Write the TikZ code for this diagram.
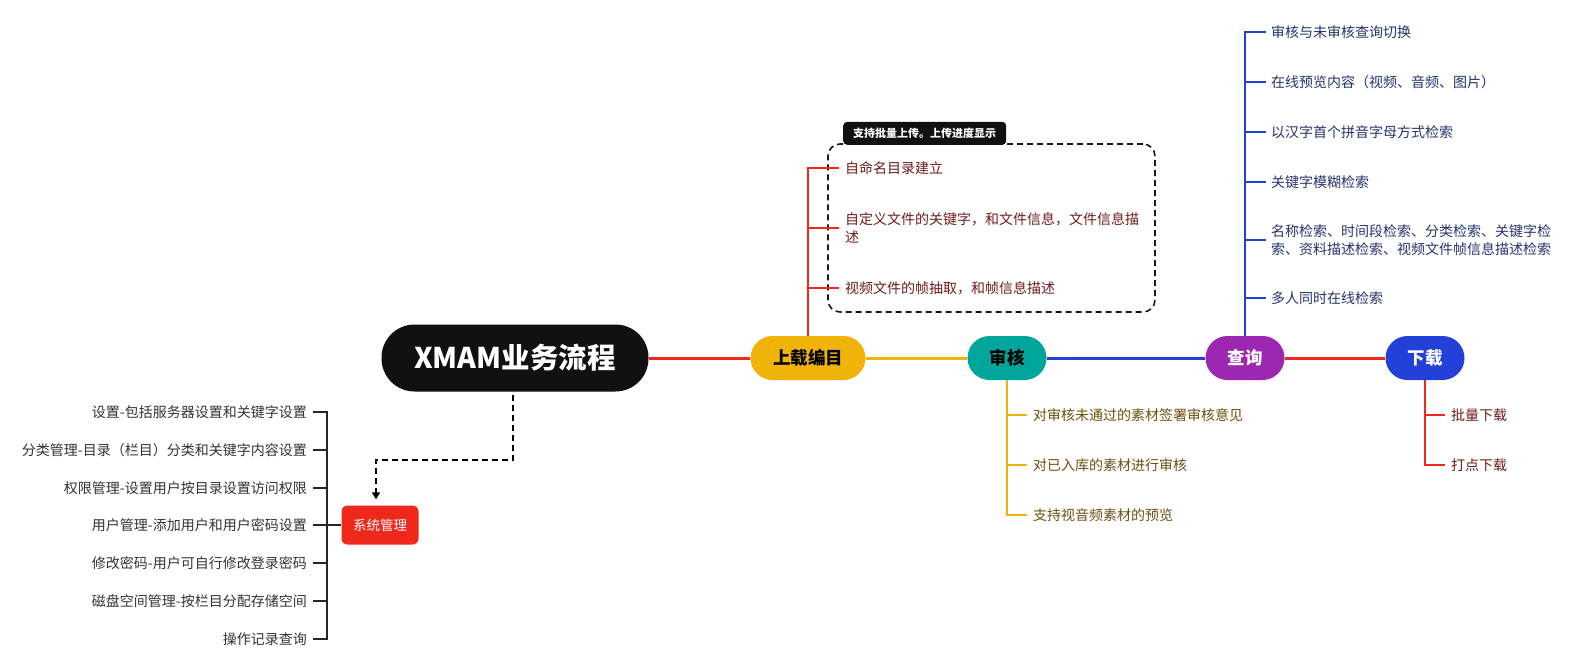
\documentclass[tikz,border=0pt]{standalone}
\usepackage{fontspec}
\setmainfont{Noto Sans CJK SC}
\usetikzlibrary{arrows.meta}
\definecolor{cred}{HTML}{F0281C}
\definecolor{cgold}{HTML}{F0B30A}
\definecolor{cteal}{HTML}{00A59B}
\definecolor{cpurple}{HTML}{9C27B0}
\definecolor{cblue}{HTML}{2340D8}
\definecolor{croot}{HTML}{111111}
\definecolor{tred}{HTML}{6E1C1C}
\definecolor{tgold}{HTML}{6E5010}
\definecolor{tblue}{HTML}{26336E}
\definecolor{tgray}{HTML}{333333}
\tikzset{
  rootbox/.style={fill=croot, rounded corners=33pt, minimum width=267pt, minimum height=67pt, text=white, inner sep=0pt, font=\fontsize{28.5}{32}\selectfont\bfseries},
  topic/.style={rounded corners=22pt, minimum height=44pt, inner sep=0pt, font=\fontsize{17.5}{20}\selectfont\bfseries},
  leaf/.style={anchor=west, inner sep=0pt, align=left, font=\fontsize{14}{18}\selectfont},
  leafr/.style={anchor=east, inner sep=0pt, align=right, font=\fontsize{14}{18}\selectfont, text=tgray},
  mainline/.style={line width=3pt},
  branch/.style={line width=2pt},
  groupbox/.style={draw=black!90, line width=1.6pt, dash pattern=on 6pt off 4pt, rounded corners=12pt},
  tabbox/.style={fill=croot, text=white, rounded corners=4pt, inner xsep=10pt, minimum height=23pt, font=\fontsize{11}{13}\selectfont\bfseries},
  sysbox/.style={fill=cred, text=white, rounded corners=6pt, minimum width=77pt, minimum height=39pt, inner sep=0pt, font=\fontsize{13.5}{16}\selectfont},
  dasharrow/.style={line width=1.6pt, dash pattern=on 6pt off 4pt, -{Triangle[length=7pt,width=8pt]}}
}
\begin{document}
\begin{tikzpicture}[x=1pt,y=-1pt]
\useasboundingbox[fill=white] (0,0) rectangle (1583,656);

% main nodes
\node[rootbox] (root) at (515,358) {XMAM业务流程};
\node[topic, fill=cgold, minimum width=115pt, text=black] (up) at (808,358) {上载编目};
\node[topic, fill=cteal, minimum width=79pt, text=black] (au) at (1007,358) {审核};
\node[topic, fill=cpurple, minimum width=79pt, text=white] (qu) at (1245,358) {查询};
\node[topic, fill=cblue, minimum width=79pt, text=white] (dl) at (1425,358) {下载};

\draw[mainline, cred] (root.east) -- (up.west);
\draw[mainline, cgold] (up.east) -- (au.west);
\draw[mainline, cblue] (au.east) -- (qu.west);
\draw[mainline, cred] (qu.east) -- (dl.west);

% upload group
\node[groupbox, minimum width=327pt, minimum height=168pt] (grp) at (991.5,228) {};
\node[tabbox, anchor=south west] (tab) at (843,145) {支持批量上传。上传进度显示};
\node[leaf, text=tred] (uc1) at (845,168) {自命名目录建立};
\node[leaf, text=tred] (uc2) at (845,228) {自定义文件的关键字，和文件信息，文件信息描\\述};
\node[leaf, text=tred] (uc3) at (845,288) {视频文件的帧抽取，和帧信息描述};
\foreach \n in {uc1,uc2,uc3}
  \draw[branch, cred] (up.north) |- ([xshift=-6pt]\n.west);

% audit
\node[leaf, text=tgold] (ac1) at (1033,415) {对审核未通过的素材签署审核意见};
\node[leaf, text=tgold] (ac2) at (1033,465) {对已入库的素材进行审核};
\node[leaf, text=tgold] (ac3) at (1033,515) {支持视音频素材的预览};
\foreach \n in {ac1,ac2,ac3}
  \draw[branch, cgold] (au.south) |- ([xshift=-6pt]\n.west);

% query
\node[leaf, text=tblue] (qc1) at (1271,32) {审核与未审核查询切换};
\node[leaf, text=tblue] (qc2) at (1271,82) {在线预览内容（视频、音频、图片）};
\node[leaf, text=tblue] (qc3) at (1271,132) {以汉字首个拼音字母方式检索};
\node[leaf, text=tblue] (qc4) at (1271,182) {关键字模糊检索};
\node[leaf, text=tblue] (qc5) at (1271,240) {名称检索、时间段检索、分类检索、关键字检\\索、资料描述检索、视频文件帧信息描述检索};
\node[leaf, text=tblue] (qc6) at (1271,298) {多人同时在线检索};
\foreach \n in {qc1,qc2,qc3,qc4,qc5,qc6}
  \draw[branch, cblue] (qu.north) |- ([xshift=-5pt]\n.west);

% download
\node[leaf, text=tred] (dc1) at (1451,415) {批量下载};
\node[leaf, text=tred] (dc2) at (1451,465) {打点下载};
\foreach \n in {dc1,dc2}
  \draw[branch, cred] (dl.south) |- ([xshift=-6pt]\n.west);

% system management
\node[sysbox] (sys) at (380,525) {系统管理};
\coordinate (d1) at (513,460);
\draw[dasharrow, shorten <=3pt] (root.south -| d1) -- (d1) -| ([xshift=-4pt,yshift=6pt]sys.north);

\node[leafr] (lc1) at (307,412) {设置-包括服务器设置和关键字设置};
\node[leafr] (lc2) at (307,450) {分类管理-目录（栏目）分类和关键字内容设置};
\node[leafr] (lc3) at (307,488) {权限管理-设置用户按目录设置访问权限};
\node[leafr] (lc4) at (307,525) {用户管理-添加用户和用户密码设置};
\node[leafr] (lc5) at (307,563) {修改密码-用户可自行修改登录密码};
\node[leafr] (lc6) at (307,601) {磁盘空间管理-按栏目分配存储空间};
\node[leafr] (lc7) at (307,639) {操作记录查询};
\coordinate (sv) at (327,525);
\draw[branch, black!85] (sys.west) -- (sv);
\foreach \n in {lc1,lc2,lc3,lc4,lc5,lc6,lc7}
  \draw[branch, black!85] ([xshift=6pt]\n.east) -| (sv);
\end{tikzpicture}
\end{document}
